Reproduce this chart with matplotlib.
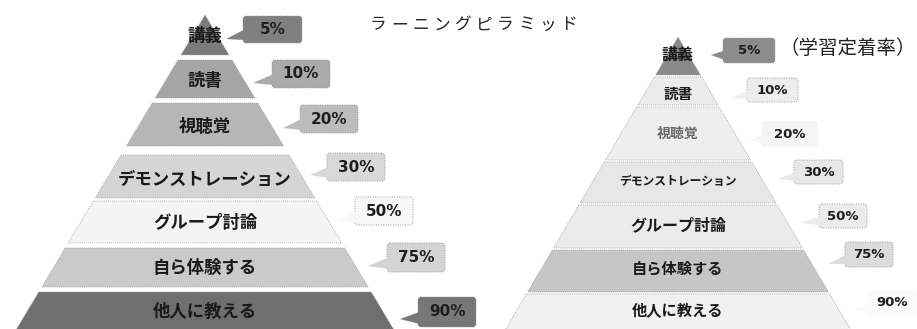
import matplotlib
matplotlib.use("Agg")
import matplotlib.pyplot as plt
from matplotlib.patches import Polygon, FancyBboxPatch

plt.rcParams['font.family'] = ['Noto Sans CJK JP', 'DejaVu Sans']

# ---------------- data ----------------
title = "ラーニングピラミッド"
subtitle = "（学習定着率）"
levels = ["講義", "読書", "視聴覚", "デモンストレーション", "グループ討論", "自ら体験する", "他人に教える"]
retention = [5, 10, 20, 30, 50, 75, 90]

left_colors = ["#7b7b7b", "#a5a5a5", "#b6b6b6", "#d5d5d5", "#f4f4f4", "#cacaca", "#6f6f6f"]
left_box_colors = ["#808080", "#aaaaaa", "#bcbcbc", "#d8d8d8", "#f7f7f7", "#d4d4d4", "#777777"]
right_colors = ["#8a8a8a", "#ebebeb", "#eeeeee", "#e7e7e7", "#ebebeb", "#c6c6c6", "#f1f1f1"]
right_box_colors = ["#8c8c8c", "#ededed", "#f5f5f5", "#e8e8e8", "#ebebeb", "#dcdcdc", "#fafafa"]

# ---------------- layout (pixels) ----------------
W, H = 917, 329
left_geo = dict(cx=205, apex=15, slope=0.60,
                bands=[(15, 55), (60, 98), (103, 146), (155, 198), (201, 243), (248, 287), (292, 340)],
                label_y=[36, 81, 127, 180, 223, 268, 312],
                label_fs=[12.5, 12.5, 12.5, 12.5, 12.5, 12.5, 12.5],
                boxes=[(243, 16, 59, 27), (272, 60, 58, 28), (300, 105, 58, 28), (327, 153, 58, 28),
                       (355, 197, 58, 28), (387, 243, 58, 29), (418, 297, 58, 30)],
                tips=[(226, 39), (253, 83), (283, 128), (310, 175), (340, 220), (368, 266), (400, 319)],
                pct_fs=11)
right_geo = dict(cx=678, apex=37, slope=0.59,
                 bands=[(37, 75), (77, 105), (107, 160), (162, 203), (205, 248), (250, 292), (294, 340)],
                 label_y=[55, 94, 134, 182, 225, 268, 310],
                 label_fs=[11.5, 10.5, 10, 8.5, 11.5, 11, 11],
                 boxes=[(723, 38, 52, 25), (747, 78, 51, 24), (762, 121, 56, 26), (794, 160, 49, 24),
                        (819, 204, 48, 24), (845, 242, 48, 25), (868, 290, 49, 26)],
                 tips=[(711, 55), (732, 98), (750, 140), (778, 179), (800, 223), (828, 264), (855, 310)],
                 pct_fs=9.5)

fig = plt.figure(figsize=(W / 100, H / 100), dpi=100)
ax = fig.add_axes([0, 0, 1, 1])
ax.set_xlim(0, W)
ax.set_ylim(H, 0)
ax.axis('off')


def draw_pyramid(geo, colors, box_colors, right=False):
    cx, apex, s = geo['cx'], geo['apex'], geo['slope']
    for i, (t, b) in enumerate(geo['bands']):
        ht, hb = s * (t - apex), s * (b - apex)
        poly = Polygon([(cx - ht, t), (cx + ht, t), (cx + hb, b), (cx - hb, b)],
                       closed=True, facecolor=colors[i], edgecolor="#9c9c9c",
                       linestyle=(0, (1, 1.5)), linewidth=0.6, zorder=2)
        ax.add_patch(poly)
        tcol = "#1a1a1a"
        if right and i == 2:
            tcol = "#6a6a6a"
        ax.text(cx, geo['label_y'][i], levels[i], ha='center', va='center',
                fontsize=geo['label_fs'][i], fontweight='bold', color=tcol, zorder=5)
        # callout
        x, y, w, h = geo['boxes'][i]
        tx, ty = geo['tips'][i]
        show_edge = box_colors[i] not in ("#fafafa", "#f5f5f5")
        box = FancyBboxPatch((x, y), w, h, boxstyle="round,pad=0,rounding_size=3",
                             facecolor=box_colors[i],
                             edgecolor="#9a9a9a" if show_edge else "none",
                             linestyle=(0, (1, 1.5)), linewidth=0.7, zorder=3)
        ax.add_patch(box)
        tri = Polygon([(x + 1.5, y + h * 0.5), (tx, ty), (x + 1.5, y + h - 3)], closed=True,
                      facecolor=box_colors[i], edgecolor="none", zorder=4)
        ax.add_patch(tri)
        ax.text(x + w / 2, y + h / 2, f"{retention[i]}%", ha='center', va='center',
                fontsize=geo['pct_fs'], fontweight='bold', color="#1e1e1e",
                family='DejaVu Sans', zorder=5)


draw_pyramid(left_geo, left_colors, left_box_colors)
draw_pyramid(right_geo, right_colors, right_box_colors, right=True)

# title with letter spacing
x0, step = 378, 21.2
for i, ch in enumerate(title):
    ax.text(x0 + i * step, 25, ch, ha='center', va='center', fontsize=12, color="#222222")

ax.text(916, 49, subtitle, ha='right', va='center', fontsize=14, color="#222222")

fig.savefig("out.png", dpi=100)
